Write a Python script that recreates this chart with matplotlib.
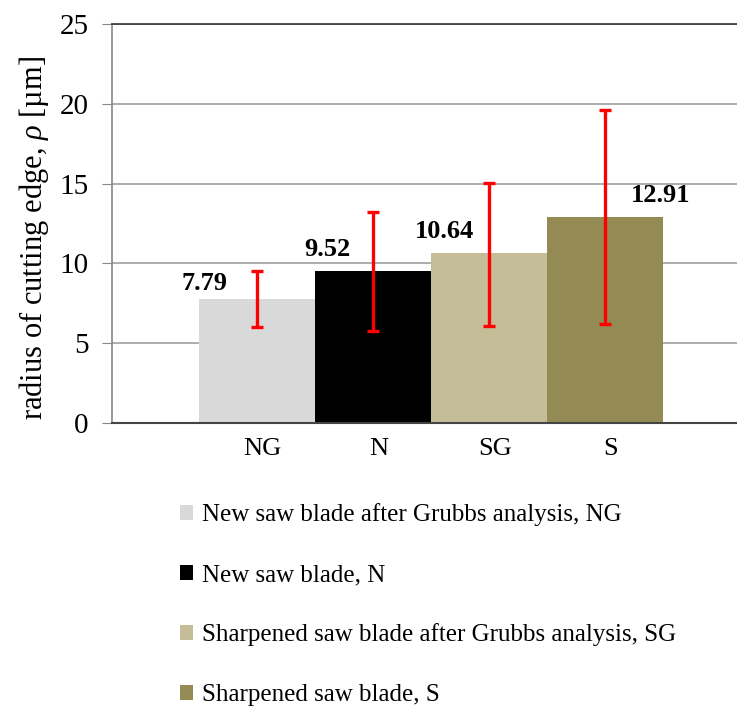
import matplotlib
matplotlib.use("Agg")
import matplotlib.pyplot as plt
from matplotlib.patches import Patch

categories = ["NG", "N", "SG", "S"]
values = [7.79, 9.52, 10.64, 12.91]
err_low = [6.0, 5.75, 6.06, 6.19]
err_high = [9.5, 13.25, 15.06, 19.6]
legend_labels = [
    "New saw blade after Grubbs analysis, NG",
    "New saw blade, N",
    "Sharpened saw blade after Grubbs analysis, SG",
    "Sharpened saw blade, S",
]
colors = ["#D9D9D9", "#000000", "#C4BD97", "#948A54"]
yticks = [0, 5, 10, 15, 20, 25]

plt.rcParams['font.family'] = ['Liberation Serif', 'DejaVu Serif']
plt.rcParams['mathtext.fontset'] = 'custom'
plt.rcParams['mathtext.rm'] = 'Liberation Serif'
plt.rcParams['mathtext.it'] = 'Liberation Serif:italic'

fig = plt.figure(figsize=(7.37, 7.08), dpi=100)
ax = fig.add_axes([112/737, 1-423/708, 1-112/737, (423-24)/708])

x = list(range(len(categories)))
ax.bar(x, values, width=1.0, color=colors, zorder=2)
lower = [v - lo for v, lo in zip(values, err_low)]
upper = [hi - v for v, hi in zip(values, err_high)]
ax.errorbar(x, values, yerr=[lower, upper], fmt='none', ecolor='#FF0000',
            elinewidth=2.4, capsize=4.0, capthick=2.4, zorder=3)

# value labels (positions as in the original)
label_dx = [-0.45, -0.39, -0.38, 0.48]
label_dy = [0.93, 1.38, 1.33, 1.33]
for xi, v, dx, dy in zip(x, values, label_dx, label_dy):
    ax.text(xi + dx, v + dy, f"{v:.2f}", ha='center', va='center',
            fontsize=19, fontweight='bold', zorder=4)

ax.set_xlim(-1.25, 4.14)
ax.set_ylim(0, 25)
ax.set_yticks(yticks)
ax.set_yticklabels([str(t) for t in yticks], fontsize=21)
ax.set_xticks([xi + 0.05 for xi in x])
ax.set_xticklabels(categories, fontsize=19)
ax.tick_params(axis='x', length=0, pad=11)
ax.tick_params(axis='y', length=7, color='#888888', pad=10)
ax.yaxis.grid(True, color='#A0A0A0', linewidth=1.2, zorder=0)
ax.set_axisbelow(True)

ax.spines['left'].set_color('#888888')
ax.spines['left'].set_linewidth(1.2)
ax.spines['top'].set_color('#333333')
ax.spines['top'].set_linewidth(1.2)
ax.spines['bottom'].set_color('#444444')
ax.spines['bottom'].set_linewidth(1.5)
ax.spines['right'].set_visible(False)

ax.set_ylabel(r"radius of cutting edge, $\it{\rho}$ [µm]", fontsize=22)
ax.yaxis.set_label_coords(-0.098, 0.464)

handles = [Patch(facecolor=c, edgecolor='none') for c in colors]
fig.legend(handles, legend_labels, loc='upper left',
           bbox_to_anchor=(167/737, 1-491/708), frameon=False,
           fontsize=18, handlelength=0.55, handleheight=0.55,
           handletextpad=0.35, labelspacing=1.5, borderpad=0)

fig.savefig("out.png", dpi=100)
